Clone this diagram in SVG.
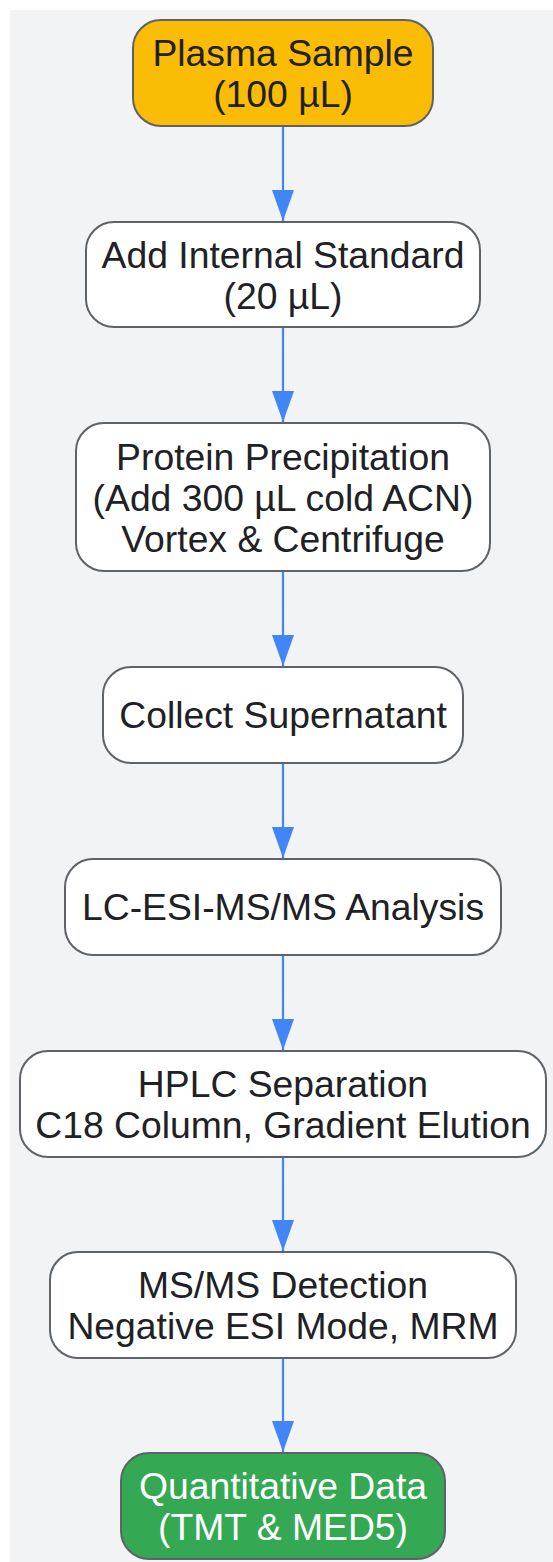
<svg xmlns="http://www.w3.org/2000/svg" width="553" height="1562" viewBox="0 0 553 1562">
<style>
.n rect{fill:#ffffff;stroke:#5f6368;stroke-width:2}
.n text{font-family:"Liberation Sans",Arial,sans-serif;font-size:37.3px;fill:#202124;text-anchor:middle}
#n1 rect{fill:#FBBC05}
#n8 rect{fill:#34A853}
#n8 text{fill:#ffffff}
.e line{stroke:#4285F4;stroke-width:2.2}
</style>
<defs>
<marker id="ah" markerUnits="userSpaceOnUse" markerWidth="32" markerHeight="24" refX="31" refY="11" orient="auto">
<path d="M0,0 L31,11 L0,22 Z" fill="#4285F4"/>
</marker>
</defs>
<rect x="10" y="10" width="543" height="1552" fill="#f1f3f4"/>
<g class="e" id="edges">
<line x1="283" y1="126" x2="283" y2="221" marker-end="url(#ah)"/>
<line x1="283" y1="327" x2="283" y2="422" marker-end="url(#ah)"/>
<line x1="283" y1="571" x2="283" y2="666" marker-end="url(#ah)"/>
<line x1="283" y1="763" x2="283" y2="858" marker-end="url(#ah)"/>
<line x1="283" y1="955" x2="283" y2="1050" marker-end="url(#ah)"/>
<line x1="283" y1="1157" x2="283" y2="1251" marker-end="url(#ah)"/>
<line x1="283" y1="1358" x2="283" y2="1452" marker-end="url(#ah)"/>
</g>
<g class="n" id="n1"><rect x="133" y="20" width="300" height="106" rx="28"/><text x="283" y="66">Plasma Sample</text><text x="283" y="107">(100 µL)</text></g>
<g class="n" id="n2"><rect x="86" y="222" width="394" height="105" rx="28"/><text x="283" y="268">Add Internal Standard</text><text x="283" y="309">(20 µL)</text></g>
<g class="n" id="n3"><rect x="76" y="423" width="414" height="148" rx="28"/><text x="283" y="470">Protein Precipitation</text><text x="283" y="511">(Add 300 µL cold ACN)</text><text x="283" y="552">Vortex &amp; Centrifuge</text></g>
<g class="n" id="n4"><rect x="103" y="667" width="360" height="96" rx="28"/><text x="283" y="728">Collect Supernatant</text></g>
<g class="n" id="n5"><rect x="65" y="859" width="436" height="96" rx="28"/><text x="283" y="920">LC-ESI-MS/MS Analysis</text></g>
<g class="n" id="n6"><rect x="20" y="1051" width="526" height="106" rx="28"/><text x="283" y="1097">HPLC Separation</text><text x="283" y="1138">C18 Column, Gradient Elution</text></g>
<g class="n" id="n7"><rect x="50" y="1252" width="466" height="106" rx="28"/><text x="283" y="1298">MS/MS Detection</text><text x="283" y="1339">Negative ESI Mode, MRM</text></g>
<g class="n" id="n8"><rect x="121" y="1453" width="324" height="106" rx="28"/><text x="283" y="1499">Quantitative Data</text><text x="283" y="1540">(TMT &amp; MED5)</text></g>
</svg>
